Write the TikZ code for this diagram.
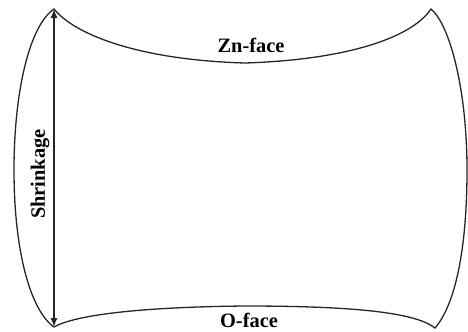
\documentclass[tikz,border=0pt]{standalone}
\usepackage{fontspec}
\setmainfont{Liberation Serif}
\usetikzlibrary{arrows.meta}
\begin{document}
\begin{tikzpicture}[x=1bp,y=-1bp,
  outline/.style={line width=1.3bp,draw=black!85,line join=miter},
  dimarrow/.style={line width=1.4bp,draw=black!85,{Latex[length=9bp,width=7bp]}-{Latex[length=9bp,width=7bp]}},
  lbl/.style={font=\bfseries\fontsize{20.5}{24}\selectfont,inner sep=0pt}]
\useasboundingbox (0,0) rectangle (468,331);
\coordinate (TL) at (54,9);
\coordinate (TR) at (431,9);
\coordinate (BR) at (435,328);
\coordinate (BL) at (54,327);
\draw[outline] (TL) .. controls (75,35) and (140,60) .. (245,63)
  .. controls (340,60) and (410,40) .. (TR)
  .. controls (450,25) and (467,90) .. (467,170)
  .. controls (467,250) and (455,305) .. (BR)
  .. controls (415,312) and (350,306) .. (245,306)
  .. controls (140,307) and (75,315) .. (BL)
  .. controls (30,310) and (14,250) .. (14,170)
  .. controls (14,90) and (30,25) .. (TL) -- cycle;
\draw[dimarrow] (TL) -- (BL);
\node[lbl,rotate=90] (shr) at (40,174) {Shrinkage};
\node[lbl] (zn) at (251,45) {Zn-face};
\node[lbl] (of) at (249,320) {O-face};
\end{tikzpicture}
\end{document}
